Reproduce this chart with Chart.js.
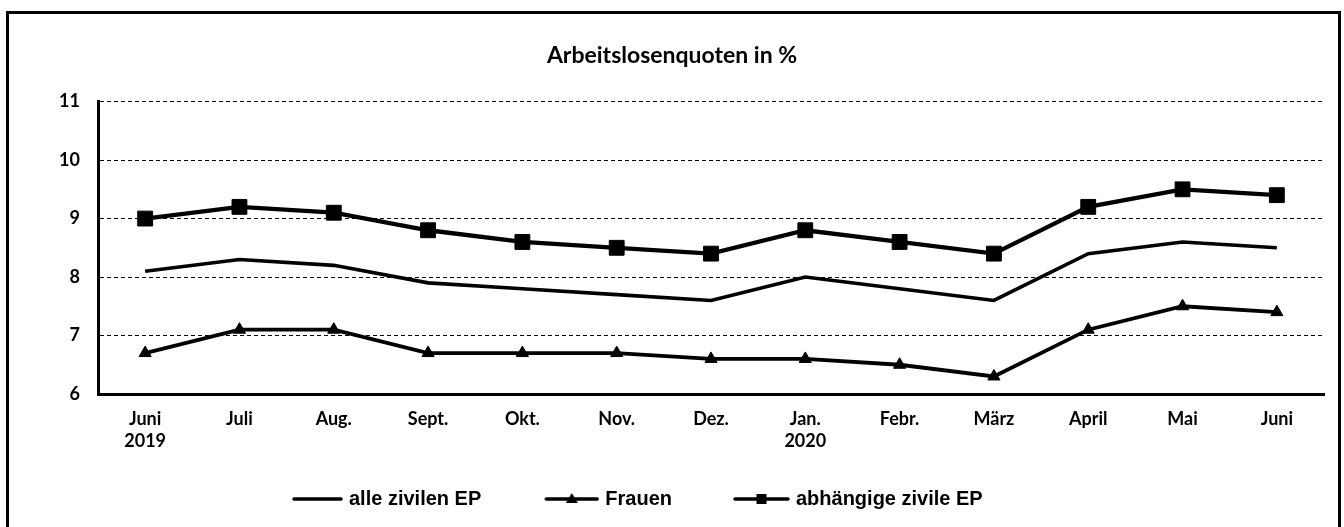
<!DOCTYPE html>
<html>
<head>
<meta charset="utf-8">
<script src="https://cdn.jsdelivr.net/npm/chart.js@4/dist/chart.umd.min.js"></script>
<style>
  html, body { margin: 0; padding: 0; background: #fff; }
  #wrap { position: relative; width: 1344px; height: 527px; overflow: hidden; }
  #frame { position: absolute; left: 6px; top: 11px; width: 1329px; height: 600px;
           border: 3px solid #000; pointer-events: none; }
  canvas { position: absolute; left: 0; top: 0; }
</style>
</head>
<body>
<div id="wrap">
  <canvas id="c" width="1344" height="527"></canvas>
  <div id="frame"></div>
</div>
<script>
const categories = [['Juni', '2019'], 'Juli', 'Aug.', 'Sept.', 'Okt.', 'Nov.', 'Dez.', ['Jan.', '2020'], 'Febr.', 'März', 'April', 'Mai', 'Juni'];
const alleZivilenEP = [8.1, 8.3, 8.2, 7.9, 7.8, 7.7, 7.6, 8.0, 7.8, 7.6, 8.4, 8.6, 8.5];
const frauen = [6.7, 7.1, 7.1, 6.7, 6.7, 6.7, 6.6, 6.6, 6.5, 6.3, 7.1, 7.5, 7.4];
const abhaengigeZivileEP = [9.0, 9.2, 9.1, 8.8, 8.6, 8.5, 8.4, 8.8, 8.6, 8.4, 9.2, 9.5, 9.4];
const seriesNames = ['alle zivilen EP', 'Frauen', 'abhängige zivile EP'];
const titleText = 'Arbeitslosenquoten in %';
const yMin = 6, yMax = 11, yStep = 1;

const BOX_W = 104;          // legend box width (pointStyleWidth)
const LEGEND_PAD = 10;
const PLOT_BOTTOM = 394;
const PAD_BOTTOM = 8;
const LEGEND_FIRST_X = 235; // desired x of first legend item
const TITLE_CENTER_X = 672;

function legendImage(lineLen, marker) {
  const w = BOX_W + 8;
  const cv = document.createElement('canvas');
  cv.width = w; cv.height = 16;
  const g = cv.getContext('2d');
  g.strokeStyle = '#000'; g.fillStyle = '#000'; g.lineWidth = 3.5; g.lineCap = 'round';
  const x1 = w - 2 - lineLen, x2 = w - 2;
  g.beginPath(); g.moveTo(x1, 8); g.lineTo(x2, 8); g.stroke();
  const cx = (x1 + x2) / 2;
  if (marker === 'triangle') {
    g.beginPath(); g.moveTo(cx, 2); g.lineTo(cx + 6, 12); g.lineTo(cx - 6, 12); g.closePath(); g.fill();
  } else if (marker === 'rect') {
    g.fillRect(cx - 5, 3, 10, 10);
  }
  return cv;
}
const legendImgs = [legendImage(47, null), legendImage(51, 'triangle'), legendImage(53, 'rect')];

const boxShift = {
  id: 'boxShift',
  afterLayout(chart) {
    const lg = chart.legend;
    if (lg && lg.lineWidths) {
      const cur = (lg.left + LEGEND_PAD + lg.right - lg.lineWidths[0]) / 2;
      const d = LEGEND_FIRST_X - cur;
      lg.left += d; lg.right += d;
    }
    const tt = chart.titleBlock;
    if (tt) {
      const d = TITLE_CENTER_X - (tt.left + tt.right) / 2;
      tt.left += d; tt.right += d;
    }
  }
};

new Chart(document.getElementById('c'), {
  type: 'line',
  plugins: [boxShift],
  data: {
    labels: categories,
    datasets: [
      { label: seriesNames[0], data: alleZivilenEP, borderColor: '#000', backgroundColor: '#000',
        borderWidth: 3.6, pointRadius: 0, pointHoverRadius: 0, tension: 0 },
      { label: seriesNames[1], data: frauen, borderColor: '#000', backgroundColor: '#000',
        borderWidth: 3.8, pointStyle: 'triangle', pointRadius: 7, pointBorderWidth: 1, tension: 0 },
      { label: seriesNames[2], data: abhaengigeZivileEP, borderColor: '#000', backgroundColor: '#000',
        borderWidth: 4.3, pointStyle: 'rect', pointRadius: 10.5, pointBorderWidth: 1, tension: 0 }
    ]
  },
  options: {
    responsive: false,
    animation: false,
    devicePixelRatio: 1,
    layout: { padding: { left: 0, right: 20, top: 0, bottom: PAD_BOTTOM } },
    plugins: {
      title: {
        display: true, text: titleText, color: '#000',
        font: { family: 'Lato', weight: 'bold', size: 23, lineHeight: 1.2 },
        padding: { top: 42, bottom: 32 }
      },
      legend: {
        position: 'bottom',
        labels: {
          color: '#000',
          font: { family: "'Liberation Sans', Arial", weight: 'bold', size: 20 },
          usePointStyle: true,
          pointStyleWidth: BOX_W,
          boxHeight: 16,
          padding: LEGEND_PAD,
          generateLabels: function (chart) {
            const items = Chart.defaults.plugins.legend.labels.generateLabels(chart);
            items.forEach((it, i) => { it.pointStyle = legendImgs[i]; });
            return items;
          }
        }
      },
      tooltip: { enabled: false }
    },
    scales: {
      x: {
        offset: true,
        grid: { display: false, drawTicks: false },
        border: { display: true, color: '#000', width: 3 },
        ticks: {
          color: '#000', autoSkip: false, maxRotation: 0, padding: 14,
          font: { family: 'Lato', weight: 'bold', size: 18, lineHeight: 1.22 }
        },
        afterFit: function (scale) {
          const lg = scale.chart.legend;
          const legendH = lg ? lg.height : 0;
          scale.height = 527 - PAD_BOTTOM - legendH - PLOT_BOTTOM;
        }
      },
      y: {
        min: yMin, max: yMax,
        grid: { color: '#000', lineWidth: 1, drawTicks: false },
        border: { display: true, color: '#000', width: 3, dash: [4, 3] },
        ticks: {
          stepSize: yStep, color: '#000', padding: 18,
          font: { family: 'Lato', weight: 'bold', size: 18 }
        },
        afterFit: function (scale) { scale.width = 98; }
      }
    }
  }
});
</script>
</body>
</html>
